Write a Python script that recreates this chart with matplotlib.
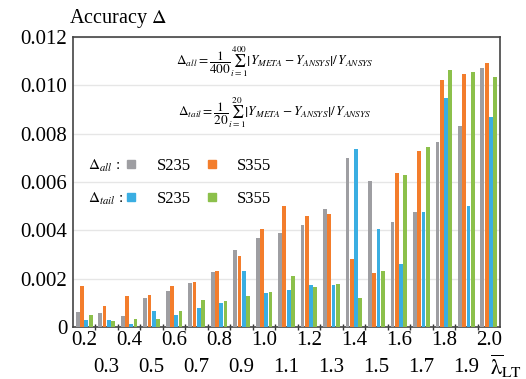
import matplotlib
matplotlib.use("Agg")
import matplotlib.pyplot as plt
import numpy as np
from matplotlib.lines import Line2D
import matplotlib.transforms as mtransforms

plt.rcParams['font.family'] = ['Liberation Serif', 'DejaVu Serif']
plt.rcParams['mathtext.fontset'] = 'stix'

categories = ['0.2', '0.3', '0.4', '0.5', '0.6', '0.7', '0.8', '0.9', '1.0', '1.1',
              '1.2', '1.3', '1.4', '1.5', '1.6', '1.7', '1.8', '1.9', '2.0']
all_s235 = [0.00061, 0.00058, 0.00044, 0.00119, 0.00149, 0.00181, 0.00228, 0.00319, 0.00367, 0.00388,
            0.00422, 0.00488, 0.00698, 0.00605, 0.00433, 0.00476, 0.00767, 0.00832, 0.01070]
all_s355 = [0.00168, 0.00086, 0.00130, 0.00134, 0.00170, 0.00186, 0.00230, 0.00294, 0.00405, 0.00501,
            0.00459, 0.00466, 0.00281, 0.00222, 0.00636, 0.00728, 0.01022, 0.01047, 0.01094]
tail_s235 = [0.00030, 0.00030, 0.00012, 0.00067, 0.00050, 0.00080, 0.00099, 0.00232, 0.00139, 0.00152,
             0.00174, 0.00172, 0.00735, 0.00404, 0.00259, 0.00477, 0.00946, 0.00502, 0.00870]
tail_s355 = [0.00051, 0.00025, 0.00034, 0.00034, 0.00067, 0.00112, 0.00108, 0.00127, 0.00145, 0.00210,
             0.00166, 0.00179, 0.00120, 0.00230, 0.00629, 0.00745, 0.01062, 0.01055, 0.01034]
yticks = [0, 0.002, 0.004, 0.006, 0.008, 0.010, 0.012]
ytick_labels = ['0', '0.002', '0.004', '0.006', '0.008', '0.010', '0.012']

c_gray = '#9e9ea2'
c_orange = '#f37d2c'
c_blue = '#3aaee2'
c_green = '#8cc04b'

W, H = 526, 379
fig = plt.figure(figsize=(W / 100, H / 100), dpi=100)
ax = fig.add_axes([73 / W, 1 - 327 / H, 427 / W, 290 / H])

x = np.arange(len(categories))
bw = 0.17
step = 0.19
series = [(all_s235, c_gray), (all_s355, c_orange), (tail_s235, c_blue), (tail_s355, c_green)]
for k, (vals, col) in enumerate(series):
    ax.bar(x + (k - 1.5) * step, vals, width=bw, color=col, linewidth=0, zorder=3)

ax.set_xlim(-0.5, len(categories) - 0.5)
ax.set_ylim(0, 0.012)
ax.set_yticks(yticks)
ax.set_yticklabels(ytick_labels, fontsize=15)
ax.tick_params(axis='y', length=0, pad=4)
ax.yaxis.grid(True, color='#e6e6e6', linewidth=1, zorder=0)

# even categories on first row (major tick labels), odd ones on second row
ax.set_xticks(x[::2])
ax.set_xticklabels(categories[::2], fontsize=15)
ax.tick_params(axis='x', which='major', length=0, pad=3)
trans = mtransforms.blended_transform_factory(ax.transData, ax.transAxes)
for xi, lab in zip(x[1::2], categories[1::2]):
    ax.text(xi, -0.138, lab, transform=trans, ha='center', va='center', fontsize=15)
ax.set_xticks(x[:-1] + 0.5, minor=True)
ax.tick_params(axis='x', which='minor', length=4, direction='inout', width=1, color='#333333')

for s in ax.spines.values():
    s.set_color('#444444')
    s.set_linewidth(1.2)

fig.text(69 / W, 1 - 19 / H, r'Accuracy $\mathrm{\Delta}$', fontsize=14.5, va='center', ha='left')
fig.text(490 / W, 1 - 366 / H, r'$\overline{\mathrm{\lambda}}_{\mathrm{LT}}$', fontsize=16,
         va='center', ha='left')

ax.text(0.473, 0.914,
        r'$\Delta_{all}=\dfrac{1}{400}\sum_{i=1}^{400}\left|Y_{META}-Y_{ANSYS}\right|/\,Y_{ANSYS}$',
        transform=ax.transAxes, ha='center', va='center', fontsize=9.5)
ax.text(0.473, 0.738,
        r'$\Delta_{tail}=\dfrac{1}{20}\sum_{i=1}^{20}\left|Y_{META}-Y_{ANSYS}\right|/\,Y_{ANSYS}$',
        transform=ax.transAxes, ha='center', va='center', fontsize=9.5)

ax.text(0.035, 0.555, r'$\Delta_{all}$ :', transform=ax.transAxes, ha='left', va='center', fontsize=11)
ax.text(0.035, 0.441, r'$\Delta_{tail}$ :', transform=ax.transAxes, ha='left', va='center', fontsize=11)

handles = [Line2D([], [], marker='s', linestyle='', color=c, markersize=6) for c in
           [c_gray, c_blue, c_orange, c_green]]
labels = ['S235', 'S235', 'S355', 'S355']
leg = ax.legend(handles, labels, ncol=2, frameon=False, fontsize=12,
                loc='center left', bbox_to_anchor=(0.125, 0.498),
                handlelength=0.6, handletextpad=1.2, columnspacing=1.0, labelspacing=1.0,
                borderpad=0, borderaxespad=0)

fig.savefig('out.png', dpi=100)
